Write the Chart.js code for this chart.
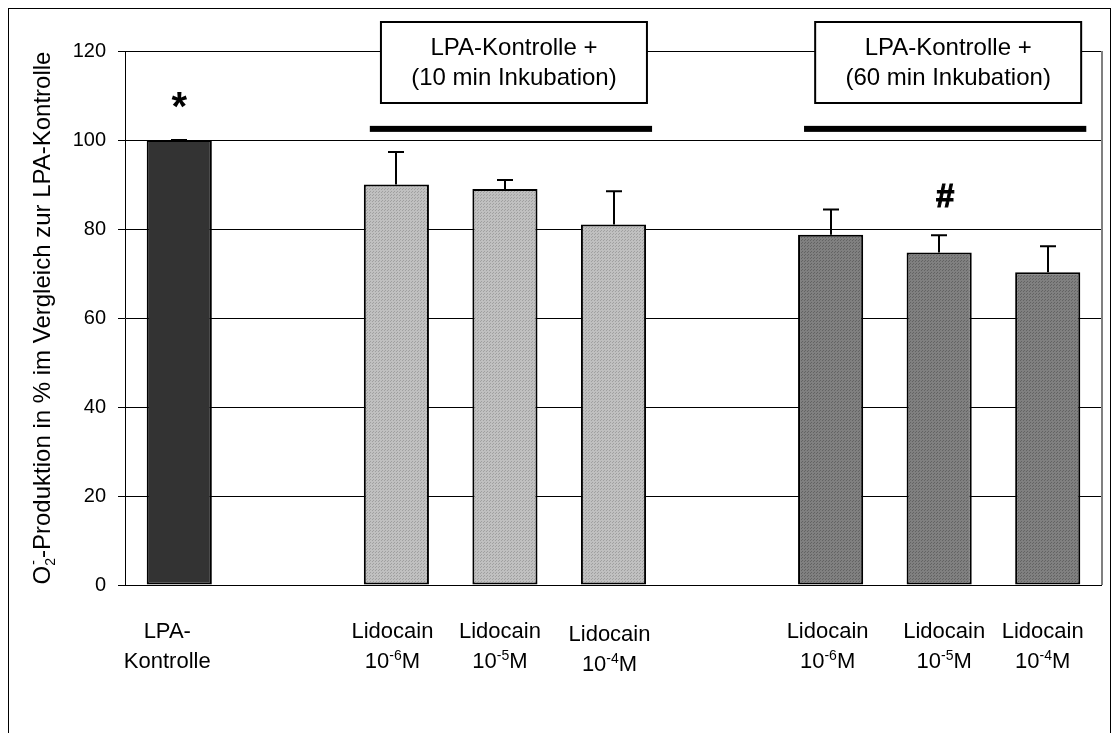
<!DOCTYPE html>
<html>
<head>
<meta charset="utf-8">
<script src="https://cdn.jsdelivr.net/npm/chart.js@4/dist/chart.umd.min.js"></script>
<style>
  html, body { margin: 0; padding: 0; background: #fff; }
  canvas { display: block; }
</style>
</head>
<body>
<canvas id="chart" width="1112" height="733"></canvas>
<script>
// ---- data ----
const categories = ['LPA-Kontrolle', '', 'Lidocain 10-6M (10 min)', 'Lidocain 10-5M (10 min)', 'Lidocain 10-4M (10 min)',
                    '', 'Lidocain 10-6M (60 min)', 'Lidocain 10-5M (60 min)', 'Lidocain 10-4M (60 min)'];
const values = [100, null, 90, 89, 81, null, 78.7, 74.7, 70.3];
const errors = [0, null, 7.3, 2.0, 7.5, null, 5.7, 3.9, 5.8];
const barKind = ['control', null, 'short', 'short', 'short', null, 'long', 'long', 'long'];

// tick labels (two lines, second line may carry an exponent)
const labelTop  = ['LPA-', '', 'Lidocain', 'Lidocain', 'Lidocain', '', 'Lidocain', 'Lidocain', 'Lidocain'];
const labelBase = ['Kontrolle', '', '10', '10', '10', '', '10', '10', '10'];
const labelExp  = ['', '', '-6', '-5', '-4', '', '-6', '-5', '-4'];
const labelUnit = ['', '', 'M', 'M', 'M', '', 'M', 'M', 'M'];

const groupTitles  = [['LPA-Kontrolle +', '(10 min Inkubation)'], ['LPA-Kontrolle +', '(60 min Inkubation)']];
const groupMembers = [[2, 4], [6, 8]];
const significance = [{ index: 0, value: 109, text: '*' }, { index: 7, value: 87.6, text: '#' }];

const yMin = 0, yMax = 120, yStep = 20;
const yTitle = { main: 'O', sub: '2', sup: '-', rest: '-Produktion in % im Vergleich zur LPA-Kontrolle' };

// ---- styling helpers ----
const FONT = '"Liberation Sans", Arial, Helvetica, sans-serif';
const labelNudge = [-12, 0, -4, -5, -4, 0, -3, 5, -5];
const labelDrop  = [0, 0, 0, 0, 3, 0, 0, 0, 0];

function dotted(base, dot) {
  const c = document.createElement('canvas');
  c.width = 3; c.height = 3;
  const g = c.getContext('2d');
  g.fillStyle = base; g.fillRect(0, 0, 3, 3);
  g.fillStyle = dot; g.fillRect(0, 0, 1, 1); g.fillRect(1, 2, 1, 1);
  return g.createPattern(c, 'repeat');
}
const fills = {
  control: '#333333',
  short: dotted('#c0c0c0', '#a0a0a0'),
  long: dotted('#808080', '#636363')
};

// ---- plugins ----
const framePlugin = {
  id: 'frame',
  beforeDraw(chart) {
    const ctx = chart.ctx;
    ctx.save();
    ctx.fillStyle = '#fff';
    ctx.fillRect(0, 0, chart.width, chart.height);
    ctx.strokeStyle = '#000';
    ctx.lineWidth = 1;
    ctx.strokeRect(8.5, 8.5, chart.width - 10, chart.height + 20);
    ctx.restore();
  },
  beforeDatasetsDraw(chart) {
    const { ctx, chartArea } = chart;
    ctx.save();
    ctx.strokeStyle = '#808080';
    ctx.lineWidth = 2;
    ctx.beginPath();
    ctx.moveTo(chartArea.right, chartArea.top);
    ctx.lineTo(chartArea.right, chartArea.bottom);
    ctx.stroke();
    ctx.restore();
  }
};

const errorBarPlugin = {
  id: 'errorBars',
  afterDatasetsDraw(chart) {
    const ctx = chart.ctx;
    const y = chart.scales.y;
    const meta = chart.getDatasetMeta(0);
    ctx.save();
    ctx.strokeStyle = '#000';
    ctx.lineWidth = 2;
    meta.data.forEach((bar, i) => {
      if (values[i] == null || errors[i] == null) return;
      const top = y.getPixelForValue(values[i]);
      const tip = y.getPixelForValue(values[i] + errors[i]);
      const x = Math.round(bar.x);
      ctx.beginPath();
      ctx.moveTo(x, top);
      ctx.lineTo(x, tip);
      ctx.moveTo(x - 8, tip);
      ctx.lineTo(x + 8, tip);
      ctx.stroke();
    });
    ctx.restore();
  }
};

const decorPlugin = {
  id: 'decor',
  afterDraw(chart) {
    const { ctx, chartArea } = chart;
    const xs = chart.scales.x, ys = chart.scales.y;
    const meta = chart.getDatasetMeta(0);
    ctx.save();

    // group bars and boxed group titles
    groupMembers.forEach(([a, b], g) => {
      const first = meta.data[a], last = meta.data[b];
      const left = first.x - first.width / 2 + 6;
      const right = last.x + last.width / 2 + 6;
      const ly = ys.getPixelForValue(102.5);
      ctx.fillStyle = '#000';
      ctx.fillRect(left, ly - 3, right - left, 6);

      const cx = (first.x + last.x) / 2 + 9;
      const bw = 266, bh = 81, by = 22;
      ctx.fillStyle = '#fff';
      ctx.fillRect(cx - bw / 2, by, bw, bh);
      ctx.strokeStyle = '#000';
      ctx.lineWidth = 2;
      ctx.strokeRect(cx - bw / 2, by, bw, bh);
      ctx.fillStyle = '#000';
      ctx.font = '24px ' + FONT;
      ctx.textAlign = 'center';
      ctx.textBaseline = 'alphabetic';
      ctx.fillText(groupTitles[g][0], cx, by + 33);
      ctx.fillText(groupTitles[g][1], cx, by + 63);
    });

    // significance markers
    significance.forEach(m => {
      const x = xs.getPixelForValue(m.index) + (m.text === '#' ? 6 : 0);
      const yc = ys.getPixelForValue(m.value);
      ctx.font = 'bold ' + (m.text === '*' ? 40 : 33) + 'px ' + FONT;
      ctx.textAlign = 'center';
      ctx.textBaseline = 'alphabetic';
      const mt = ctx.measureText(m.text);
      const off = (mt.actualBoundingBoxAscent - mt.actualBoundingBoxDescent) / 2;
      ctx.fillStyle = '#000';
      ctx.fillText(m.text, x, yc + off);
      if (m.text === '#') {
        // slightly heavier stroke for the hash sign
        ctx.strokeStyle = '#000';
        ctx.lineWidth = 1;
        ctx.strokeText(m.text, x, yc + off);
      }
    });

    // category labels
    ctx.fillStyle = '#000';
    ctx.textBaseline = 'alphabetic';
    categories.forEach((c, i) => {
      if (!labelTop[i]) return;
      const x = xs.getPixelForValue(i) + labelNudge[i];
      const y1 = chartArea.bottom + 53 + labelDrop[i];
      const y2 = y1 + 30;
      ctx.font = '22px ' + FONT;
      ctx.textAlign = 'center';
      ctx.fillText(labelTop[i], x, y1);
      if (!labelExp[i]) {
        ctx.fillText(labelBase[i], x, y2);
        return;
      }
      ctx.textAlign = 'left';
      const big = '22px ' + FONT, small = '14px ' + FONT;
      ctx.font = big;
      const w1 = ctx.measureText(labelBase[i]).width;
      const w3 = ctx.measureText(labelUnit[i]).width;
      ctx.font = small;
      const w2 = ctx.measureText(labelExp[i]).width;
      let px = x - (w1 + w2 + w3) / 2;
      ctx.font = big;
      ctx.fillText(labelBase[i], px, y2); px += w1;
      ctx.font = small;
      ctx.fillText(labelExp[i], px, y2 - 8); px += w2;
      ctx.font = big;
      ctx.fillText(labelUnit[i], px, y2);
    });

    // rotated y-axis title with sub/superscript
    const big = '24px ' + FONT, small = '14px ' + FONT;
    ctx.font = big;
    const wMain = ctx.measureText(yTitle.main).width;
    const wRest = ctx.measureText(yTitle.rest).width;
    ctx.font = small;
    const wSub = Math.max(ctx.measureText(yTitle.sub).width, ctx.measureText(yTitle.sup).width);
    const total = wMain + wSub + wRest;
    const cy = (chartArea.top + chartArea.bottom) / 2;
    ctx.translate(50, cy);
    ctx.rotate(-Math.PI / 2);
    ctx.textAlign = 'left';
    let lx = -total / 2;
    ctx.font = big;
    ctx.fillText(yTitle.main, lx, 0); lx += wMain;
    ctx.font = small;
    ctx.fillText(yTitle.sub, lx, 5);
    ctx.fillText(yTitle.sup, lx + 1, -12);
    lx += wSub;
    ctx.font = big;
    ctx.fillText(yTitle.rest, lx, 0);
    ctx.restore();
  }
};

// ---- chart ----
new Chart(document.getElementById('chart'), {
  type: 'bar',
  data: {
    labels: categories,
    datasets: [{
      data: values,
      backgroundColor: barKind.map(k => k ? fills[k] : 'transparent'),
      borderColor: '#000',
      borderWidth: 2,
      borderSkipped: false,
      barPercentage: 0.6,
      categoryPercentage: 1.0
    }]
  },
  options: {
    responsive: false,
    devicePixelRatio: 1,
    animation: false,
    events: [],
    layout: { padding: { left: 0, right: 10, top: 51, bottom: 148 } },
    plugins: { legend: { display: false }, tooltip: { enabled: false }, title: { display: false } },
    scales: {
      x: {
        ticks: { display: false },
        grid: { display: false, drawTicks: false },
        border: { display: false },
        afterFit(s) { s.height = 0; }
      },
      y: {
        min: yMin, max: yMax,
        ticks: { stepSize: yStep, color: '#000', font: { family: FONT, size: 20 }, padding: 12 },
        grid: { color: '#000', lineWidth: 1, tickLength: 7, drawTicks: true },
        border: { display: true, color: '#000', width: 1 },
        afterFit(s) { s.width = 125; }
      }
    }
  },
  plugins: [framePlugin, errorBarPlugin, decorPlugin]
});
</script>
</body>
</html>
